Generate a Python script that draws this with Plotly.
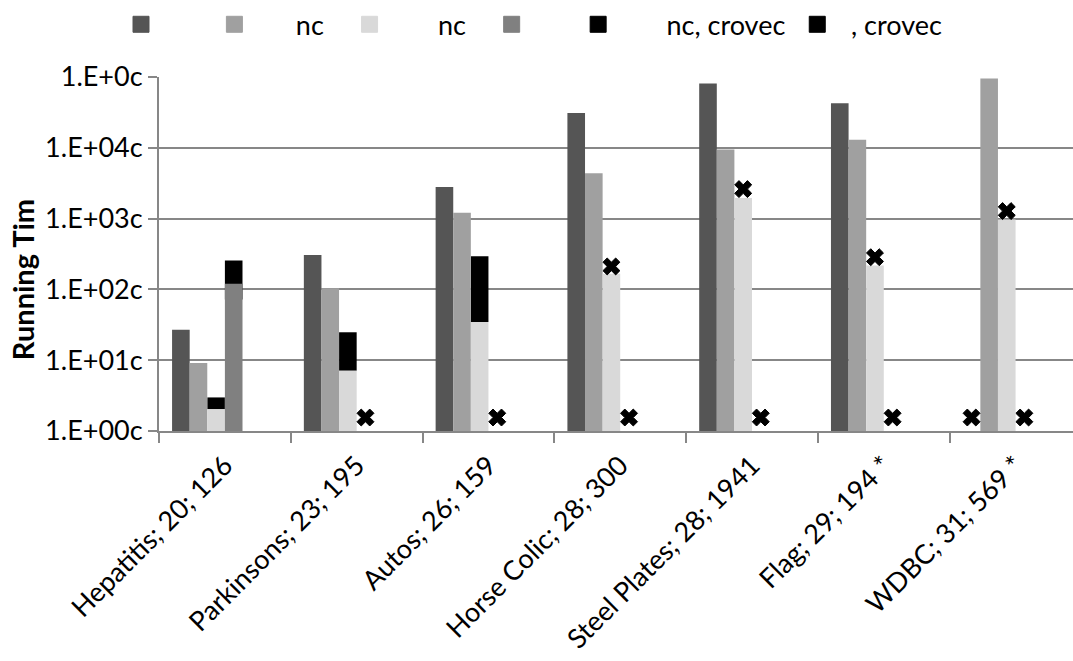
import plotly.graph_objects as go

# ---- data -------------------------------------------------------------
categories = [
    "Hepatitis; 20; 126",
    "Parkinsons; 23; 195",
    "Autos; 26; 159",
    "Horse Colic; 28; 300",
    "Steel Plates; 28; 1941",
    "Flag; 29; 194 *",
    "WDBC; 31; 569 *",
]

# running times per dataset (log scale)
dark_vals = [27, 307, 2790, 31000, 81000, 42700, None]
medium_vals = [9.1, 104, 1210, 4370, 9440, 13000, 95300]
light_vals = [2.03, 7.1, 34.5, 167, 1960, 218, 975]
slate_vals = [120, None, None, None, None, None, None]

# ranges drawn as black boxes
crovec_a_low = [2.03, 7.1, 34.5, None, None, None, None]
crovec_a_high = [2.98, 24.8, 294, None, None, None, None]
crovec_b_low = [72, None, None, None, None, None, None]
crovec_b_high = [256, None, None, None, None, None, None]

# "x" markers (runs that did not finish / reached a limit)
cross_slot0 = [None, None, None, None, None, None, 1.55]
cross_slot2 = [None, None, None, 211, 2610, 285, 1277]
cross_slot3 = [None, 1.55, 1.55, 1.55, 1.55, 1.55, 1.55]

legend_labels = ["", "nc", "nc", "", "nc, crovec", ", crovec"]

ytick_vals = [1, 10, 100, 1000, 10000, 100000]
ytick_text = ["1.E+00c", "1.E+01c", "1.E+02c", "1.E+03c", "1.E+04c", "1.E+0c"]

y_title = "Running Tim"

# ---- styling ----------------------------------------------------------
FONT = "Lato"
GRID = "#878787"
C_DARK = "#555555"
C_MED = "#A0A0A0"
C_LIGHT = "#D9D9D9"
C_SLATE = "#808080"
C_BLACK = "#000000"

SLOT_W = 0.1336           # width of one bar slot (category units)
GROUP_LEFT = -3 * SLOT_W  # six slots per category, centred


def slot_offset(k):
    return GROUP_LEFT + k * SLOT_W


idx = list(range(len(categories)))
fig = go.Figure()


def add_range_boxes(low, high, slot):
    xs, bases, sizes = [], [], []
    for i, (lo, hi) in enumerate(zip(low, high)):
        if lo is None or hi is None:
            continue
        xs.append(i)
        bases.append(lo)
        sizes.append(hi - lo)
    fig.add_trace(go.Bar(
        x=xs, y=sizes, base=bases,
        offset=slot_offset(slot), width=SLOT_W,
        marker=dict(color=C_BLACK, line=dict(width=0)),
        showlegend=False, hoverinfo="skip",
    ))


def add_bars(vals, slot, color):
    fig.add_trace(go.Bar(
        x=idx, y=vals,
        offset=slot_offset(slot), width=SLOT_W,
        marker=dict(color=color, line=dict(width=0)),
        showlegend=False,
    ))


def add_crosses(vals, slot):
    fig.add_trace(go.Scatter(
        x=[i + slot_offset(slot) + SLOT_W / 2 for i in idx], y=vals,
        mode="markers",
        marker=dict(symbol="x", size=15, color=C_BLACK,
                    line=dict(width=1, color=C_BLACK)),
        showlegend=False, hoverinfo="skip",
    ))


# black range boxes sit underneath the grey bars
add_range_boxes(crovec_a_low, crovec_a_high, 2)
add_range_boxes(crovec_b_low, crovec_b_high, 3)

add_bars(dark_vals, 0, C_DARK)
add_bars(medium_vals, 1, C_MED)
add_bars(light_vals, 2, C_LIGHT)
add_bars(slate_vals, 3, C_SLATE)

add_crosses(cross_slot0, 0)
add_crosses(cross_slot2, 2)
add_crosses(cross_slot3, 3)

# legend entries (square swatches); padding spaces set the item spacing
NB = "\u00a0"
legend_colors = [C_DARK, C_MED, C_LIGHT, C_SLATE, C_BLACK, C_BLACK]
lead_pad = [7, 6, 7, 6, 7, 2]
trail_pad = [0, 3, 3, 0, 1, 0]
for lab, col, lp, tp in zip(legend_labels, legend_colors, lead_pad, trail_pad):
    fig.add_trace(go.Scatter(
        x=[None], y=[None], mode="markers",
        name=NB * lp + lab + NB * tp,
        marker=dict(symbol="square", size=16, color=col,
                    line=dict(width=1, color=col)),
    ))

W, H = 1073, 661
ML, MR, MT, MB = 159, 0, 72, 230
plot_w = W - ML - MR
plot_h = H - MT - MB

fig.update_layout(
    template="none",
    width=W, height=H,
    margin=dict(l=ML, r=MR, t=MT, b=MB, pad=0),
    paper_bgcolor="white", plot_bgcolor="white",
    barmode="overlay",
    font=dict(family=FONT, size=27, color="black"),
    showlegend=True,
    legend=dict(
        orientation="h",
        x=(121 - ML) / plot_w, xanchor="left",
        y=1 + (MT - 19) / plot_h, yanchor="middle",
        font=dict(family=FONT, size=27, color="black"),
        bgcolor="rgba(0,0,0,0)", borderwidth=0,
        itemclick=False, itemdoubleclick=False,
    ),
    xaxis=dict(
        type="linear",
        range=[-0.5, -0.5 + plot_w / 131.78],
        tickmode="array", tickvals=idx, ticktext=categories,
        tickangle=-45, ticks="", ticklabelstandoff=6,
        tickfont=dict(family=FONT, size=27, color="black"),
        showgrid=False, zeroline=False,
        showline=True, linecolor=GRID, linewidth=2,
        minor=dict(tickmode="array",
                   tickvals=[i - 0.5 for i in range(len(categories) + 1)],
                   ticks="outside", ticklen=10, tickwidth=2,
                   tickcolor=GRID, showgrid=False),
        automargin=False, fixedrange=True,
    ),
    yaxis=dict(
        type="log", range=[0, 5],
        tickmode="array", tickvals=ytick_vals, ticktext=ytick_text,
        ticks="outside", ticklen=9, tickwidth=2, tickcolor=GRID,
        tickfont=dict(family=FONT, size=27, color="black"),
        showgrid=True, gridcolor=GRID, gridwidth=2,
        showline=True, linecolor=GRID, linewidth=2,
        zeroline=False, automargin=False, fixedrange=True,
    ),
    annotations=[dict(
        text="<b>" + y_title + "</b>", textangle=-90,
        xref="paper", yref="paper",
        x=0, xshift=-137, y=(H - MB - 278) / plot_h,
        xanchor="center", yanchor="middle", showarrow=False,
        font=dict(family=FONT, size=29, color="black"),
    )],
)

fig.write_html("out.html")
